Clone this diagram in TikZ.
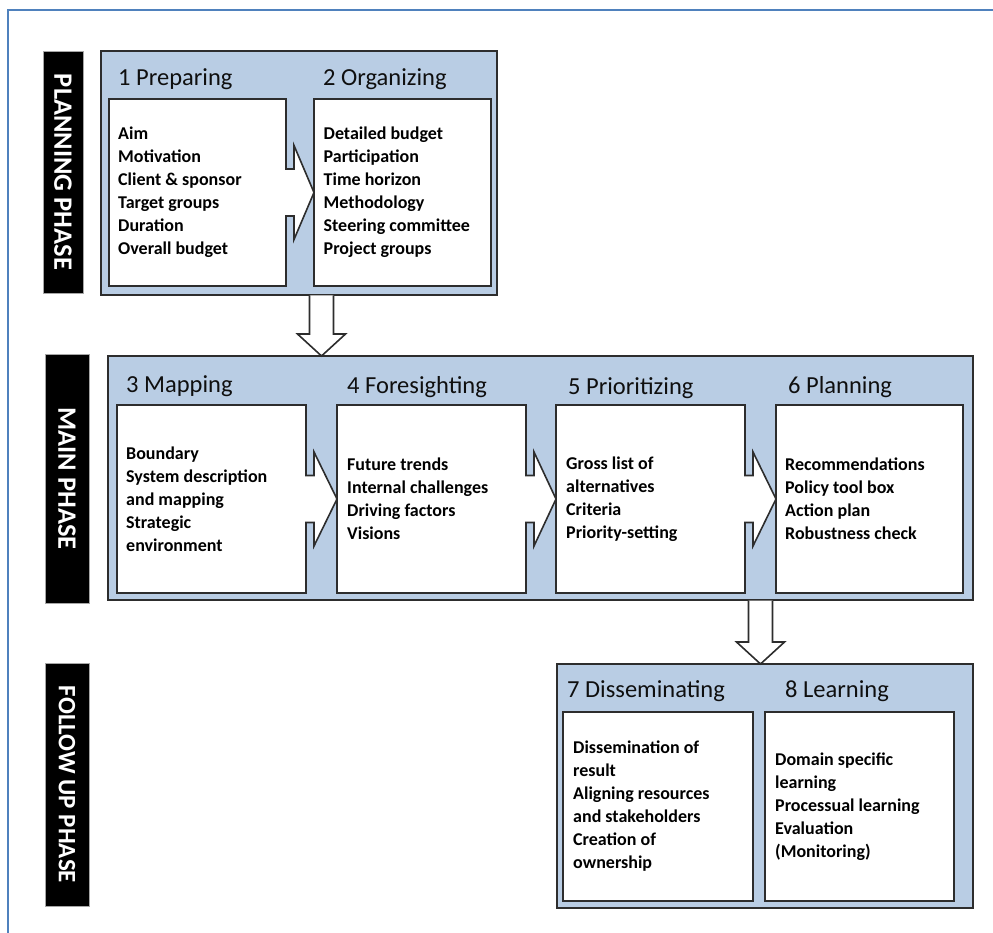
\documentclass[tikz,border=0pt]{standalone}
\usepackage{fontspec}
\setmainfont{Carlito}
\usetikzlibrary{positioning,calc}
\definecolor{Frame}{RGB}{79,129,189}
\definecolor{Steel}{RGB}{185,205,228}
\definecolor{Edge}{RGB}{45,45,45}
\definecolor{Ink}{RGB}{15,15,15}

% block arrow from the right side of one box to the left side of the next
\newcommand{\rarrow}[2]{%
 \filldraw[a] ($(#1.east)+(-0.8,-23.5)$) -- ($(#1.east)+(8,-23.5)$) -- ($(#1.east)+(8,-47)$) -- (#2.west)
  -- ($(#1.east)+(8,47)$) -- ($(#1.east)+(8,23.5)$) -- ($(#1.east)+(-0.8,23.5)$);}
% block arrow from one phase down to the next, at the x of #1
\newcommand{\darrow}[3]{%
 \path (#1 |- #2.south) coordinate (ds) (#1 |- #3.north) coordinate (dt);
 \filldraw[a] ($(ds)+(-12,0.5)$) -- ($(dt)+(-12,-22)$) -- ($(dt)+(-24,-22)$) -- (dt)
  -- ($(dt)+(24,-22)$) -- ($(dt)+(12,-22)$) -- ($(ds)+(12,0.5)$);}

\begin{document}
\begin{tikzpicture}[x=1pt,y=-1pt,
 ph/.style={fill=black,draw=gray!70,text=white,font=\fontsize{26.5}{30}\selectfont\bfseries,rotate=-90,inner sep=0pt},
 grp/.style={draw=Edge,fill=Steel,line width=1.6pt,outer sep=0pt,minimum height=244},
 bx/.style={draw=Edge,fill=white,line width=1.6pt,outer sep=0pt,minimum width=189,minimum height=188},
 ttl/.style={anchor=base west,text=Ink,font=\fontsize{24.5}{28}\selectfont,inner sep=0pt},
 itm/.style={anchor=west,align=left,font=\fontsize{18}{23}\selectfont\bfseries,inner sep=0pt},
 a/.style={draw=Edge,fill=white,line width=1.6pt}]
\useasboundingbox (0,0) rectangle (993,933);
\draw[Frame,line width=2.2pt] (8,933) -- (8,10) -- (993,10);

% phase labels
\node[ph,minimum width=242,minimum height=40] (lplan) at (63,172) {PLANNING PHASE};
\node[ph,minimum width=249,minimum height=44] (lmain) at (67,478.5) {MAIN PHASE};
\node[ph,minimum width=243,minimum height=44,font=\fontsize{25}{30}\selectfont\bfseries] (lfollow) at (67,784.5) {FOLLOW UP PHASE};

% phase groups
\node[grp,minimum width=396] (plan) at (299,173) {};
\node[grp,minimum width=865] (main) at (540.5,478) {};
\node[grp,minimum width=416] (follow) at (765,786) {};

% steps
\node[bx,minimum width=177,minimum height=187,anchor=south west] (prep) at ($(plan.south west)+(8,-9)$) {};
\node[bx,minimum width=177,minimum height=187,right=28pt of prep] (org) {};
\node[bx,anchor=south west] (map) at ($(main.south west)+(9,-7)$) {};
\node[bx,right=31pt of map] (fore) {};
\node[bx,right=30pt of fore] (prio) {};
\node[bx,minimum width=187,right=31pt of prio] (pln) {};
\node[bx,minimum width=190,minimum height=189,anchor=south west] (diss) at ($(follow.south west)+(6,-7)$) {};
\node[bx,minimum height=189,right=12pt of diss] (learn) {};

% titles
\node[ttl] (tprep) at (118,86) {1 Preparing};
\node[ttl] (torg) at (323,86) {2 Organizing};
\node[ttl] (tmap) at (126,392) {3 Mapping};
\node[ttl] (tfore) at (347,393) {4 Foresighting};
\node[ttl] (tprio) at (568,394) {5 Prioritizing};
\node[ttl] (tpln) at (788,393) {6 Planning};
\node[ttl] (tdiss) at (567,697) {7 Disseminating};
\node[ttl] (tlearn) at (785,697) {8 Learning};

% contents
\node[itm] (iprep) at ($(prep.west)+(9,0)$) {Aim\\Motivation\\Client \& sponsor\\Target groups\\Duration\\Overall budget};
\node[itm] (iorg) at ($(org.west)+(9.5,0)$) {Detailed budget\\Participation\\Time horizon\\Methodology\\Steering committee\\Project groups};
\node[itm] (imap) at ($(map.west)+(9,0)$) {Boundary\\System description\\and mapping\\Strategic\\environment};
\node[itm] (ifore) at ($(fore.west)+(10,0)$) {Future trends\\Internal challenges\\Driving factors\\Visions};
\node[itm] (iprio) at ($(prio.west)+(10,0)$) {Gross list of\\alternatives\\Criteria\\Priority-setting};
\node[itm] (ipln) at ($(pln.west)+(9,0)$) {Recommendations\\Policy tool box\\Action plan\\Robustness check};
\node[itm] (idiss) at ($(diss.west)+(10,0)$) {Dissemination of\\result\\Aligning resources\\and stakeholders\\Creation of\\ownership};
\node[itm] (ilearn) at ($(learn.west)+(10,0)$) {Domain specific\\learning\\Processual learning\\Evaluation\\(Monitoring)};

% arrows
\rarrow{prep}{org}
\rarrow{map}{fore}
\rarrow{fore}{prio}
\rarrow{prio}{pln}
\coordinate (g34) at ($(map.east)!.5!(fore.west)$);
\coordinate (g56) at ($(prio.east)!.5!(pln.west)$);
\darrow{g34}{plan}{main}
\darrow{g56}{main}{follow}
\end{tikzpicture}
\end{document}
